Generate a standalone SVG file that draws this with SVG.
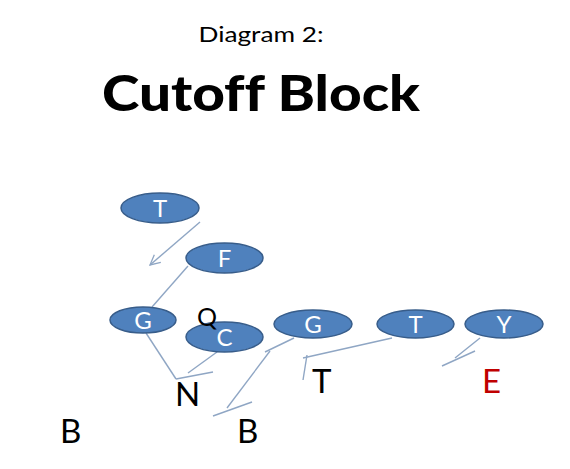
<svg xmlns="http://www.w3.org/2000/svg" width="570" height="469" viewBox="0 0 570 469">
<defs>
<style>
text{font-variant-ligatures:none}
.n ellipse{fill:#4F81BD;stroke:#385D8A;stroke-width:1.5}
.n text{fill:#fff;font-family:Lato,"Open Sans",sans-serif;font-size:24px;text-anchor:middle}
.c{stroke:#8FA6C4;stroke-width:1.4;fill:none}
.lbl{font-family:Lato,"Open Sans",sans-serif;font-size:33px;fill:#000}
</style>
<marker id="ah" viewBox="0 0 12 12" refX="11" refY="6" markerWidth="12" markerHeight="12" markerUnits="userSpaceOnUse" orient="auto">
<path d="M1,1 L11,6 L1,11" fill="none" stroke="#8FA6C4" stroke-width="1.3"/>
</marker>
</defs>
<rect width="570" height="469" fill="#fff"/>
<text x="261" y="42" font-family="Lato,'Open Sans',sans-serif" font-size="21" text-anchor="middle" textLength="125" lengthAdjust="spacingAndGlyphs">Diagram 2:</text>
<text x="261" y="111" font-family="Lato,'Open Sans',sans-serif" font-weight="900" font-size="50" text-anchor="middle" textLength="318" lengthAdjust="spacingAndGlyphs">Cutoff Block</text>
<g id="connectors">
<line class="c" x1="200" y1="222" x2="150" y2="265" marker-end="url(#ah)"/>
<line class="c" x1="188" y1="266" x2="152" y2="307"/>
<line class="c" x1="146" y1="333" x2="176" y2="379"/>
<line class="c" x1="176" y1="379" x2="213" y2="372"/>
<line class="c" x1="217" y1="352" x2="188" y2="373"/>
<line class="c" x1="294" y1="338" x2="265" y2="352"/>
<line class="c" x1="270" y1="351" x2="227" y2="408"/>
<line class="c" x1="213" y1="416" x2="252" y2="402"/>
<line class="c" x1="392" y1="338" x2="303" y2="358"/>
<line class="c" x1="307" y1="355" x2="303" y2="380"/>
<line class="c" x1="480" y1="338" x2="455" y2="358"/>
<line class="c" x1="442" y1="366" x2="475" y2="351"/>
</g>
<g id="node-T1" class="n"><ellipse cx="160" cy="208" rx="39" ry="15"/><text x="160" y="217">T</text></g>
<g id="node-F" class="n"><ellipse cx="224.5" cy="258" rx="38.5" ry="15"/><text x="224.5" y="267">F</text></g>
<g id="node-G1" class="n"><ellipse cx="143" cy="320" rx="33" ry="13"/><text x="143" y="329">G</text></g>
<g id="node-C" class="n"><ellipse cx="224.5" cy="337" rx="38.5" ry="15"/><text x="224.5" y="346">C</text></g>
<text id="label-Q" x="197" y="326" font-family="Lato,'Open Sans',sans-serif" font-size="25">Q</text>
<g id="node-G2" class="n"><ellipse cx="313" cy="324" rx="39" ry="14"/><text x="313" y="333">G</text></g>
<g id="node-T2" class="n"><ellipse cx="415.5" cy="324" rx="38.5" ry="14"/><text x="415.5" y="333">T</text></g>
<g id="node-Y" class="n"><ellipse cx="504" cy="324" rx="39" ry="14"/><text x="504" y="333">Y</text></g>
<text id="label-N" class="lbl" x="175" y="406">N</text>
<text id="label-T" class="lbl" x="312" y="393">T</text>
<text id="label-E" class="lbl" x="482" y="393" style="fill:#C00000">E</text>
<text id="label-B1" class="lbl" x="60" y="443">B</text>
<text id="label-B2" class="lbl" x="237" y="443">B</text>
</svg>
